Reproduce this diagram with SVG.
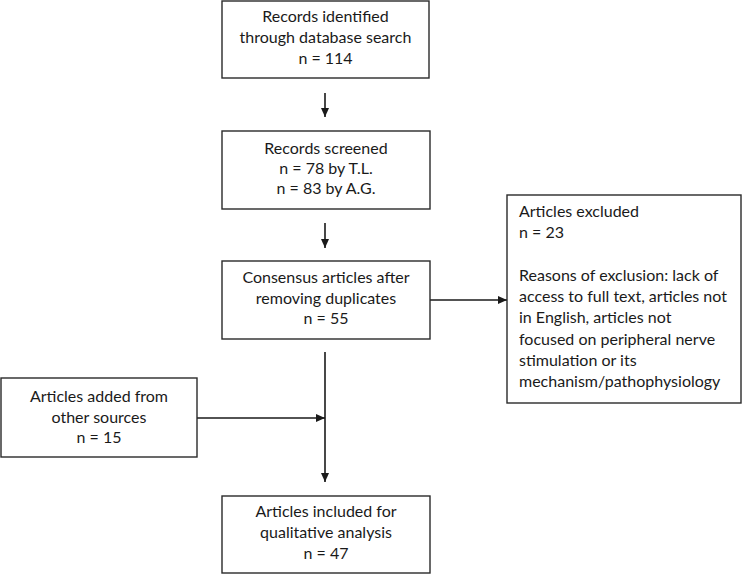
<svg xmlns="http://www.w3.org/2000/svg" width="742" height="574" viewBox="0 0 742 574">
<defs>
<marker id="ah" markerWidth="9" markerHeight="8" refX="9" refY="4" orient="auto" markerUnits="userSpaceOnUse">
<path d="M0,0 L9,4 L0,8 Z" fill="#1a1a1a"/>
</marker>
<style>
.box{fill:#fff;stroke:#2a2a2a;stroke-width:1.4}
.t{font-family:Lato,"Open Sans","Liberation Sans",sans-serif;font-size:16px;fill:#1a1a1a}
.c{text-anchor:middle}
.ln{stroke:#1a1a1a;stroke-width:1.6;fill:none}
</style>
</defs>
<rect width="742" height="574" fill="#fff"/>
<g id="connectors">
<line class="ln" x1="325" y1="93" x2="325" y2="117" marker-end="url(#ah)"/>
<line class="ln" x1="325" y1="223" x2="325" y2="248" marker-end="url(#ah)"/>
<line class="ln" x1="430" y1="300" x2="507" y2="300" marker-end="url(#ah)"/>
<line class="ln" x1="325" y1="352" x2="325" y2="482" marker-end="url(#ah)"/>
<line class="ln" x1="197" y1="418" x2="325" y2="418" marker-end="url(#ah)"/>
</g>
<g id="n1">
<rect class="box" x="222" y="1" width="207" height="77"/>
<text class="t c" x="325.5" y="22">Records identified</text>
<text class="t c" x="325.5" y="43">through database search</text>
<text class="t c" x="325.5" y="64">n = 114</text>
</g>
<g id="n2">
<rect class="box" x="222" y="131" width="208" height="78"/>
<text class="t c" x="326" y="154">Records screened</text>
<text class="t c" x="326" y="174">n = 78 by T.L.</text>
<text class="t c" x="326" y="194">n = 83 by A.G.</text>
</g>
<g id="n3">
<rect class="box" x="222" y="261" width="208" height="78"/>
<text class="t c" x="326" y="283">Consensus articles after</text>
<text class="t c" x="326" y="304">removing duplicates</text>
<text class="t c" x="326" y="324">n = 55</text>
</g>
<g id="n4">
<rect class="box" x="507" y="195" width="234" height="208"/>
<text class="t" x="519" y="217">Articles excluded</text>
<text class="t" x="519" y="238">n = 23</text>
<text class="t" x="519" y="281">Reasons of exclusion: lack of</text>
<text class="t" x="519" y="302">access to full text, articles not</text>
<text class="t" x="519" y="323">in English, articles not</text>
<text class="t" x="519" y="345">focused on peripheral nerve</text>
<text class="t" x="519" y="366">stimulation or its</text>
<text class="t" x="519" y="387">mechanism/pathophysiology</text>
</g>
<g id="n5">
<rect class="box" x="1" y="378" width="196" height="79"/>
<text class="t c" x="99" y="402">Articles added from</text>
<text class="t c" x="99" y="423">other sources</text>
<text class="t c" x="99" y="443">n = 15</text>
</g>
<g id="n6">
<rect class="box" x="222" y="496" width="208" height="77"/>
<text class="t c" x="326" y="517">Articles included for</text>
<text class="t c" x="326" y="538">qualitative analysis</text>
<text class="t c" x="326" y="559">n = 47</text>
</g>
</svg>
